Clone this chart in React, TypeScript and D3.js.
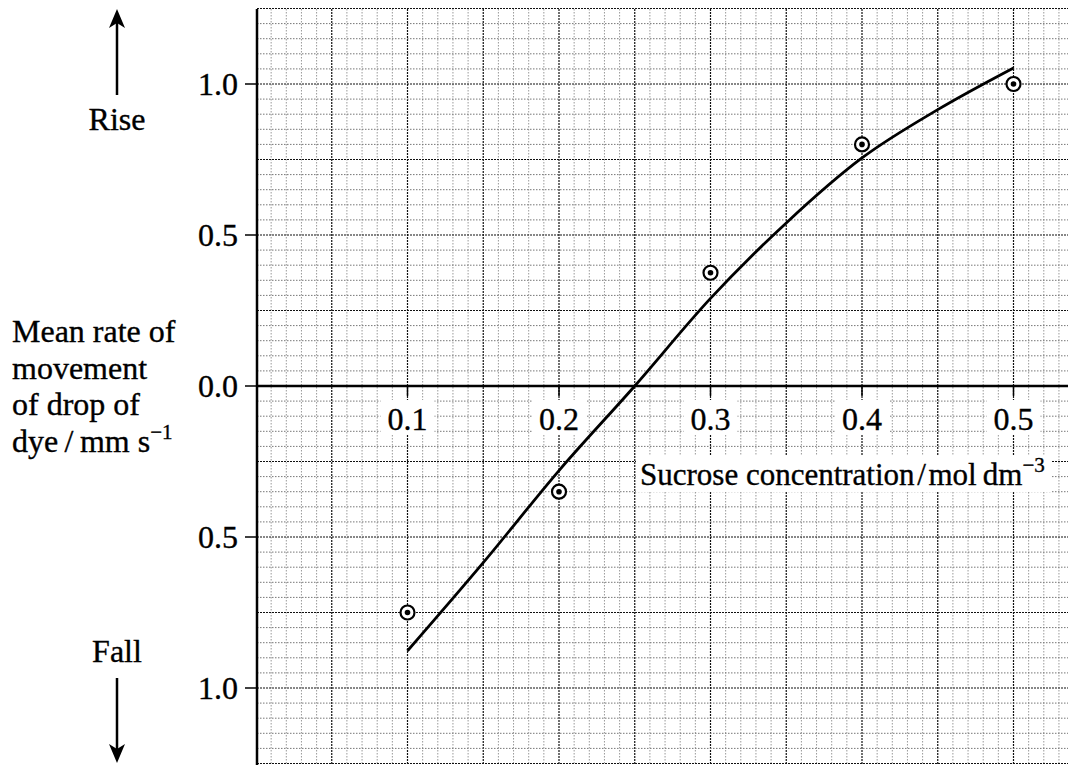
import React, { useRef, useEffect } from 'react';
import * as d3 from 'd3';

// measured points (sucrose conc / mean rate)
const concentrations = [0.1, 0.2, 0.3, 0.4, 0.5];
const meanRates = [-0.75, -0.35, 0.375, 0.8, 1.0];

// hand-drawn best-fit curve
const curveConc = [0.1, 0.15, 0.2, 0.25, 0.3, 0.35, 0.4, 0.45, 0.5];
const curveRate = [-0.877, -0.585, -0.28, 0, 0.29, 0.54, 0.755, 0.915, 1.053];

const xTicks = [0.1, 0.2, 0.3, 0.4, 0.5];
const xTickLabels = ['0.1', '0.2', '0.3', '0.4', '0.5'];
const yTicks = [1.0, 0.5, 0.0, -0.5, -1.0];
const yTickLabels = ['1.0', '0.5', '0.0', '0.5', '1.0'];
const yTitleLines = ['Mean rate of', 'movement', 'of drop of'];

const W = 1068;
const H = 765;
const FONT = "'Liberation Serif', 'Times New Roman', serif";
const FS = 32;

const App: React.FC = () => {
  const svgRef = useRef<SVGSVGElement>(null);

  useEffect(() => {
    if (!svgRef.current) return;
    const svg = d3.select(svgRef.current);
    svg.selectAll('*').remove();

    const x = d3.scaleLinear().domain([0, 0.5]).range([256, 1013.5]);
    const y = d3.scaleLinear().domain([-1.25, 1.25]).range([763.5, 8.5]);
    const xMax = x.invert(W);

    // Grid paper
    const grid = svg.append('g');
    const vLines = d3.range(0, Math.floor(xMax * 100) + 1).map((i) => i / 100);
    vLines.forEach((v, i) => {
      if (i === 0) return;
      const major = i % 5 === 0;
      grid.append('line')
        .attr('x1', x(v)).attr('x2', x(v))
        .attr('y1', 9).attr('y2', H)
        .attr('stroke', major ? '#111' : '#999')
        .attr('stroke-width', major ? 1.2 : 1)
        .attr('stroke-dasharray', major ? '2,1' : '1.5,1.5');
    });
    const hLines = d3.range(-25, 26).map((i) => i / 20);
    hLines.forEach((v, i) => {
      const major = i % 5 === 0;
      grid.append('line')
        .attr('x1', 257).attr('x2', W)
        .attr('y1', y(v)).attr('y2', y(v))
        .attr('stroke', major ? '#111' : '#777')
        .attr('stroke-width', major ? 1.2 : 1)
        .attr('stroke-dasharray', major ? '2,1' : '1.5,1.5');
    });

    // White boxes behind x labels
    xTicks.forEach((t) => {
      svg.append('rect')
        .attr('x', x(t) - 27).attr('y', 400)
        .attr('width', 54).attr('height', 35)
        .attr('fill', 'white');
    });
    svg.append('rect')
      .attr('x', 636).attr('y', 455)
      .attr('width', 416).attr('height', 37)
      .attr('fill', 'white');

    // Axes
    svg.append('line')
      .attr('x1', 257).attr('x2', 257).attr('y1', 9).attr('y2', H)
      .attr('stroke', 'black').attr('stroke-width', 2.5);
    svg.append('line')
      .attr('x1', 257).attr('x2', W).attr('y1', y(0)).attr('y2', y(0))
      .attr('stroke', 'black').attr('stroke-width', 2.5);

    const txt = (sel: d3.Selection<SVGTextElement, unknown, null, undefined>, size = FS) =>
      sel.attr('font-family', FONT).attr('font-size', size)
        .attr('fill', 'black').attr('stroke', 'black').attr('stroke-width', 0.35);

    yTicks.forEach((t, i) => {
      svg.append('line')
        .attr('x1', 245).attr('x2', 257).attr('y1', y(t)).attr('y2', y(t))
        .attr('stroke', 'black').attr('stroke-width', 1.5);
      txt(svg.append('text')
        .attr('x', 238).attr('y', y(t) + 11)
        .attr('text-anchor', 'end'))
        .text(yTickLabels[i]);
    });

    xTicks.forEach((t, i) => {
      svg.append('line')
        .attr('x1', x(t)).attr('x2', x(t)).attr('y1', y(0)).attr('y2', y(0) + 10)
        .attr('stroke', 'black').attr('stroke-width', 1.5);
      txt(svg.append('text')
        .attr('x', x(t)).attr('y', 430)
        .attr('text-anchor', 'middle'))
        .text(xTickLabels[i]);
    });

    // x title
    const xt = txt(svg.append('text').attr('x', 640).attr('y', 485), 31);
    xt.append('tspan').text('Sucrose concentration\u200a/\u200amol\u2009dm');
    xt.append('tspan').attr('dy', -13).attr('font-size', 21).text('\u22123');

    // y title
    yTitleLines.forEach((line, i) => {
      txt(svg.append('text').attr('x', 12).attr('y', 342 + i * 36.7)).text(line);
    });
    const yt = txt(svg.append('text').attr('x', 12).attr('y', 342 + 3 * 36.7));
    yt.append('tspan').text('dye\u2009/\u2009mm s');
    yt.append('tspan').attr('dy', -13).attr('font-size', 21).text('\u22121');

    // Rise / Fall arrows
    const arrow = (x0: number, y0: number, y1: number) => {
      const dir = y1 < y0 ? -1 : 1;
      svg.append('line')
        .attr('x1', x0).attr('x2', x0).attr('y1', y0).attr('y2', y1 - dir * 14)
        .attr('stroke', 'black').attr('stroke-width', 2.5);
      svg.append('path')
        .attr('d', `M${x0},${y1} L${x0 - 8},${y1 - dir * 19} L${x0},${y1 - dir * 14} L${x0 + 8},${y1 - dir * 19} Z`)
        .attr('fill', 'black');
    };
    arrow(117, 95, 9);
    arrow(117, 678, 763);
    txt(svg.append('text').attr('x', 117).attr('y', 130).attr('text-anchor', 'middle')).text('Rise');
    txt(svg.append('text').attr('x', 117).attr('y', 662).attr('text-anchor', 'middle')).text('Fall');

    // Curve
    const line = d3.line<number>()
      .x((_, i) => x(curveConc[i]))
      .y((d) => y(d))
      .curve(d3.curveMonotoneX);
    svg.append('path')
      .attr('d', line(curveRate))
      .attr('fill', 'none')
      .attr('stroke', 'black')
      .attr('stroke-width', 2.8);

    // Points
    concentrations.forEach((c, i) => {
      svg.append('circle')
        .attr('cx', x(c)).attr('cy', y(meanRates[i])).attr('r', 7)
        .attr('fill', 'white').attr('stroke', 'black').attr('stroke-width', 2.2);
      svg.append('circle')
        .attr('cx', x(c)).attr('cy', y(meanRates[i])).attr('r', 2.8)
        .attr('fill', 'black');
    });
  }, []);

  return (
    <div style={{ position: 'absolute', left: 0, top: 0, width: W, height: H, background: 'white' }}>
      <svg ref={svgRef} width={W} height={H} style={{ display: 'block' }}></svg>
    </div>
  );
};

export default App;
